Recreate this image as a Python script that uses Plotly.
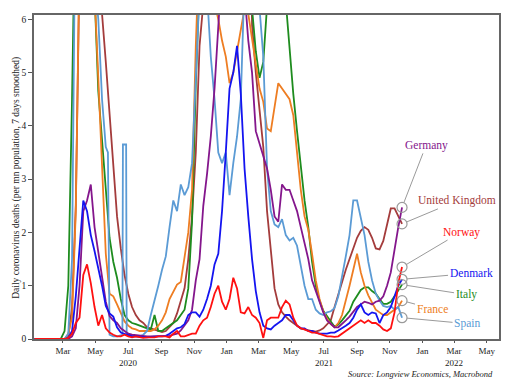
import pandas as pd
import plotly.graph_objects as go

# Weekly sample dates (Wednesdays) from 2020-01-08 to 2021-11-24
dates = pd.date_range("2020-01-08", periods=99, freq="7D")

germany = [0, 0, 0, 0, 0, 0, 0, 0, 0, 0, 0.05,
           0.2, 1.0, 2.4, 2.6, 2.9, 2.1, 1.6, 1.1, 0.7, 0.43,
           0.35, 0.3, 0.2, 0.15, 0.1, 0.08, 0.07, 0.06, 0.05, 0.05,
           0.05, 0.05, 0.05, 0.05, 0.05, 0.06, 0.08, 0.1, 0.16, 0.25,
           0.35, 0.55, 1.1, 1.5, 2.5, 3.1, 3.8, 4.7, 5.6, 6.5,
           7.5, 9.0, 10.5, 10.0, 8.5, 6.5, 5.6, 5.0, 3.9, 3.65,
           3.4, 3.2, 2.8, 2.3, 2.2, 2.9, 2.8, 2.8, 2.6, 2.4,
           2.1, 1.8, 1.5, 1.1, 0.9, 0.7, 0.5, 0.35, 0.28, 0.22,
           0.22, 0.28, 0.35, 0.42, 0.5, 0.6, 0.65, 0.7, 0.68, 0.65,
           0.7, 0.72, 0.8, 1.0, 1.25, 1.7, 2.1, 2.47]

uk = [0, 0, 0, 0, 0, 0, 0, 0, 0, 0.05,
      0.6, 2.5, 6.8, 11.5, 13.5, 12.5, 10.5, 8.5, 6.1, 5.2,
      4.2, 3.2, 2.3, 1.7, 1.2, 0.85, 0.6, 0.45, 0.35, 0.3,
      0.22, 0.2, 0.18, 0.15, 0.13, 0.15, 0.22, 0.3, 0.48, 0.7,
      0.95, 1.5, 2.3, 3.5, 5.5, 6.3, 6.8, 6.5, 6.3, 6.8,
      7.5, 8.5, 11.0, 15.0, 18.0, 18.0, 15.0, 10.0, 5.9, 5.0,
      4.3, 3.6, 2.4, 1.6, 0.95, 0.65, 0.5, 0.42, 0.35, 0.3,
      0.25, 0.2, 0.18, 0.16, 0.15, 0.14, 0.16, 0.2, 0.28, 0.35,
      0.6, 0.85, 1.05, 1.3, 1.5, 1.7, 1.9, 2.03, 2.1, 2.05,
      1.9, 1.7, 1.68, 1.84, 2.15, 2.45, 2.45, 2.3, 2.16]

norway = [0, 0, 0, 0, 0, 0, 0, 0, 0, 0.02,
          0.1, 0.3, 0.4, 1.2, 1.4, 1.05, 0.6, 0.25, 0.45, 0.2,
          0.12, 0.08, 0.05, 0.05, 0.08, 0.05, 0.03, 0.05, 0.03, 0.02,
          0.03, 0.03, 0.03, 0.05, 0.05, 0.05, 0.03, 0.1, 0.15, 0.05,
          0.05, 0.08, 0.1, 0.1, 0.25, 0.35, 0.4, 0.6, 0.85, 1.0,
          0.7, 0.55, 0.75, 1.15, 0.95, 0.5, 0.48, 0.6, 0.45, 0.4,
          0.3, 0.02, 0.35, 0.4, 0.4, 0.4, 0.6, 0.72, 0.65, 0.4,
          0.25, 0.2, 0.18, 0.15, 0.12, 0.12, 0.1, 0.08, 0.05, 0.05,
          0.04, 0.05, 0.1, 0.15, 0.2, 0.25, 0.3, 0.35, 0.3, 0.35,
          0.3, 0.3, 0.25, 0.18, 0.15, 0.2, 0.5, 1.05, 1.35]

denmark = [0, 0, 0, 0, 0, 0, 0, 0, 0, 0.02,
           0.15, 0.8, 1.7, 2.6, 2.4, 1.95, 1.65, 1.35, 1.0, 0.62,
           0.48, 0.42, 0.22, 0.12, 0.1, 0.08, 0.05, 0.05, 0.04, 0.03,
           0.03, 0.04, 0.05, 0.05, 0.05, 0.06, 0.1, 0.15, 0.2, 0.22,
           0.28, 0.45, 0.5, 0.5, 0.42, 0.55, 0.75, 1.0, 1.4, 1.6,
           2.4, 3.5, 4.7, 5.0, 5.5, 4.6, 3.2, 2.3, 1.5, 0.9,
           0.5, 0.25, 0.2, 0.18, 0.25, 0.3, 0.35, 0.45, 0.45, 0.35,
           0.25, 0.2, 0.2, 0.15, 0.15, 0.12, 0.1, 0.1, 0.1, 0.12,
           0.12, 0.16, 0.2, 0.25, 0.3, 0.4, 0.55, 0.65, 0.5, 0.45,
           0.5, 0.48, 0.3, 0.45, 0.5, 0.6, 0.8, 1.0, 1.12]

italy = [0, 0, 0, 0, 0, 0, 0, 0, 0.15, 1.0,
         4.5, 10.0, 13.0, 11.0, 9.5, 8.0, 6.5, 4.65, 3.7, 2.9,
         1.9, 1.45, 1.15, 0.75, 0.45, 0.35, 0.3, 0.28, 0.25, 0.22,
         0.2, 0.18, 0.45, 0.15, 0.15, 0.2, 0.25, 0.3, 0.35, 0.45,
         0.55, 0.95, 2.2, 4.8, 7.5, 10.0, 12.0, 12.3, 11.5, 10.5,
         9.0, 8.0, 8.0, 8.0, 7.5, 7.5, 7.0, 6.6, 6.2, 5.4,
         4.9, 5.2, 6.3, 7.3, 7.5, 7.5, 7.2, 6.3, 5.5, 4.6,
         3.9, 3.25, 2.6, 2.1, 1.45, 1.0, 0.72, 0.53, 0.42, 0.33,
         0.23, 0.27, 0.35, 0.43, 0.53, 0.7, 0.8, 0.92, 0.97, 0.97,
         0.9, 0.85, 0.75, 0.66, 0.66, 0.7, 0.8, 0.9, 1.02]

france = [0, 0, 0, 0, 0, 0, 0, 0, 0, 0.1,
          0.4, 2.4, 7.0, 12.0, 13.0, 9.5, 6.5, 4.9, 3.4, 1.6,
          0.85, 0.8, 0.65, 0.5, 0.33, 0.25, 0.2, 0.18, 0.15, 0.15,
          0.15, 0.15, 0.18, 0.25, 0.35, 0.5, 0.75, 0.9, 1.02, 1.07,
          1.5, 2.0, 2.8, 5.5, 7.5, 9.0, 8.3, 6.8, 6.3, 6.0,
          5.6, 5.3, 4.8, 5.0, 5.4, 5.8, 6.2, 6.1, 5.6, 5.1,
          4.7, 4.45, 3.95, 3.9, 4.4, 4.8, 4.7, 4.6, 4.5, 4.2,
          3.5, 2.8, 2.3, 2.05, 1.6, 1.1, 0.75, 0.52, 0.38, 0.28,
          0.22, 0.3, 0.45, 0.7, 1.0, 1.3, 1.6, 1.25, 1.0, 0.82,
          0.68, 0.55, 0.5, 0.45, 0.45, 0.5, 0.55, 0.6, 0.72]

spain = [0, 0, 0, 0, 0, 0, 0, 0, 0, 0.1,
         1.5, 9.0, 16.0, 16.0, 12.5, 9.0, 6.8, 6.0, 4.5, 3.6,
         0.08, 0.05, 0.05, 0.08, 3.65, 0.1, 0.05, 0.05, 0.05, 0.08,
         0.15, 0.45, 0.7, 1.0, 1.3, 1.55, 2.1, 2.6, 2.4, 2.9,
         2.7, 2.85, 3.3, 5.2, 6.5, 6.8, 6.5, 5.3, 4.5, 3.5,
         3.3, 3.5, 2.7, 3.3, 3.8, 4.5, 6.5, 9.0, 8.5, 7.0,
         6.2, 5.3, 3.2, 2.4, 2.15, 2.1, 2.25, 1.95, 1.85, 1.9,
         1.75, 1.35, 1.0, 0.75, 0.75, 0.55, 0.48, 0.45, 0.5, 0.52,
         0.58, 0.8, 1.15, 1.55, 1.95, 2.6, 2.6, 2.3, 1.95, 1.45,
         1.1, 0.85, 0.72, 0.62, 0.6, 0.62, 0.55, 0.6, 0.4]

# Extra Spanish points around the 2020 reporting revisions
spain_extra_dates = ["2020-05-24", "2020-06-20", "2020-06-21", "2020-06-27", "2020-06-28"]
spain_extra_vals = [3.5, 0.08, 3.65, 3.65, 0.1]

names = ["United Kingdom", "Italy", "France", "Spain", "Germany", "Denmark", "Norway"]
colors = {"Germany": "#84168C", "United Kingdom": "#A43C3C", "Norway": "#FF1010",
          "Denmark": "#1414F0", "Italy": "#1E8C1E", "France": "#EE7D22", "Spain": "#5B9BD5"}

series = {"Germany": pd.Series(germany, index=dates),
          "United Kingdom": pd.Series(uk, index=dates),
          "Norway": pd.Series(norway, index=dates),
          "Denmark": pd.Series(denmark, index=dates),
          "Italy": pd.Series(italy, index=dates),
          "France": pd.Series(france, index=dates),
          "Spain": pd.concat([pd.Series(spain, index=dates),
                              pd.Series(spain_extra_vals, index=pd.to_datetime(spain_extra_dates))]).sort_index()}

# label offsets (pixels) from end point
label_offsets = {"Germany": (24, -62), "United Kingdom": (55, -23), "Norway": (59, -35),
                 "Denmark": (69, -6), "Italy": (64, 10), "France": (30, 8), "Spain": (65, 6)}

serif = "Liberation Serif, DejaVu Serif, serif"

fig = go.Figure()
for nm in names:
    s = series[nm]
    fig.add_trace(go.Scatter(x=s.index, y=s.values, mode="lines",
                             line=dict(color=colors[nm], width=1.8), name=nm,
                             showlegend=False, hoverinfo="skip"))

end_x = [series[nm].index[-1] for nm in names]
end_y = [series[nm].values[-1] for nm in names]
fig.add_trace(go.Scatter(x=end_x, y=end_y, mode="markers",
                         marker=dict(symbol="circle-open", size=10, color="#9a9a9a",
                                     line=dict(width=1.2, color="#9a9a9a")),
                         showlegend=False, hoverinfo="skip"))

annotations = []
for nm in names:
    ax, ay = label_offsets[nm]
    annotations.append(dict(x=series[nm].index[-1], y=series[nm].values[-1], xref="x", yref="y",
                            text=nm, showarrow=True, arrowhead=0, arrowwidth=1,
                            arrowcolor="#9a9a9a", ax=ax, ay=ay, standoff=5,
                            font=dict(family=serif, size=11.5, color=colors[nm])))

annotations.append(dict(x=-0.037, y=0.497, xref="paper", yref="paper", showarrow=False,
                        text="Daily coronavirus deaths (per mn population, 7 days smoothed)",
                        textangle=-90, xanchor="center", yanchor="middle",
                        font=dict(family=serif, size=9.5, color="#222")))
annotations.append(dict(x=0.991, y=-0.107, xref="paper", yref="paper", showarrow=False,
                        text="<i>Source: Longview Economics, Macrobond</i>",
                        xanchor="right", yanchor="middle",
                        font=dict(family=serif, size=8.5, color="#222")))

tick_vals = ["2020-03-01", "2020-05-01", "2020-07-01", "2020-09-01", "2020-11-01",
             "2021-01-01", "2021-03-01", "2021-05-01", "2021-07-01", "2021-09-01",
             "2021-11-01", "2022-01-01", "2022-03-01", "2022-05-01"]
tick_text = ["Mar", "May", "Jul", "Sep", "Nov", "Jan", "Mar", "May",
             "Jul", "Sep", "Nov", "Jan", "Mar", "May"]
year_dates = ["2020-07-01", "2021-07-01", "2022-03-01"]
year_labels = ["2020", "2021", "2022"]

for d, t in zip(year_dates, year_labels):
    annotations.append(dict(x=d, y=-0.073, xref="x", yref="paper", showarrow=False,
                            text=t, xanchor="center", yanchor="middle",
                            font=dict(family=serif, size=9, color="#222")))

fig.update_layout(
    width=516, height=391,
    margin=dict(l=26, r=25, t=5, b=60),
    plot_bgcolor="white", paper_bgcolor="white",
    showlegend=False,
    annotations=annotations,
    xaxis=dict(type="date", range=["2020-01-07", "2022-05-24"],
               tickvals=tick_vals, ticktext=tick_text,
               ticks="outside", ticklen=2, tickcolor="#555",
               showline=True, linecolor="#666", linewidth=1.5, mirror=True,
               showgrid=False, zeroline=False,
               tickfont=dict(family=serif, size=9, color="#222")),
    yaxis=dict(range=[0, 6.08], tickvals=[0, 1, 2, 3, 4, 5, 6],
               ticks="outside", ticklen=4, tickcolor="#555",
               showline=True, linecolor="#666", linewidth=1.5, mirror=True,
               showgrid=False, zeroline=False,
               tickfont=dict(family=serif, size=9.5, color="#222")),
)

fig.write_html("out.html")
